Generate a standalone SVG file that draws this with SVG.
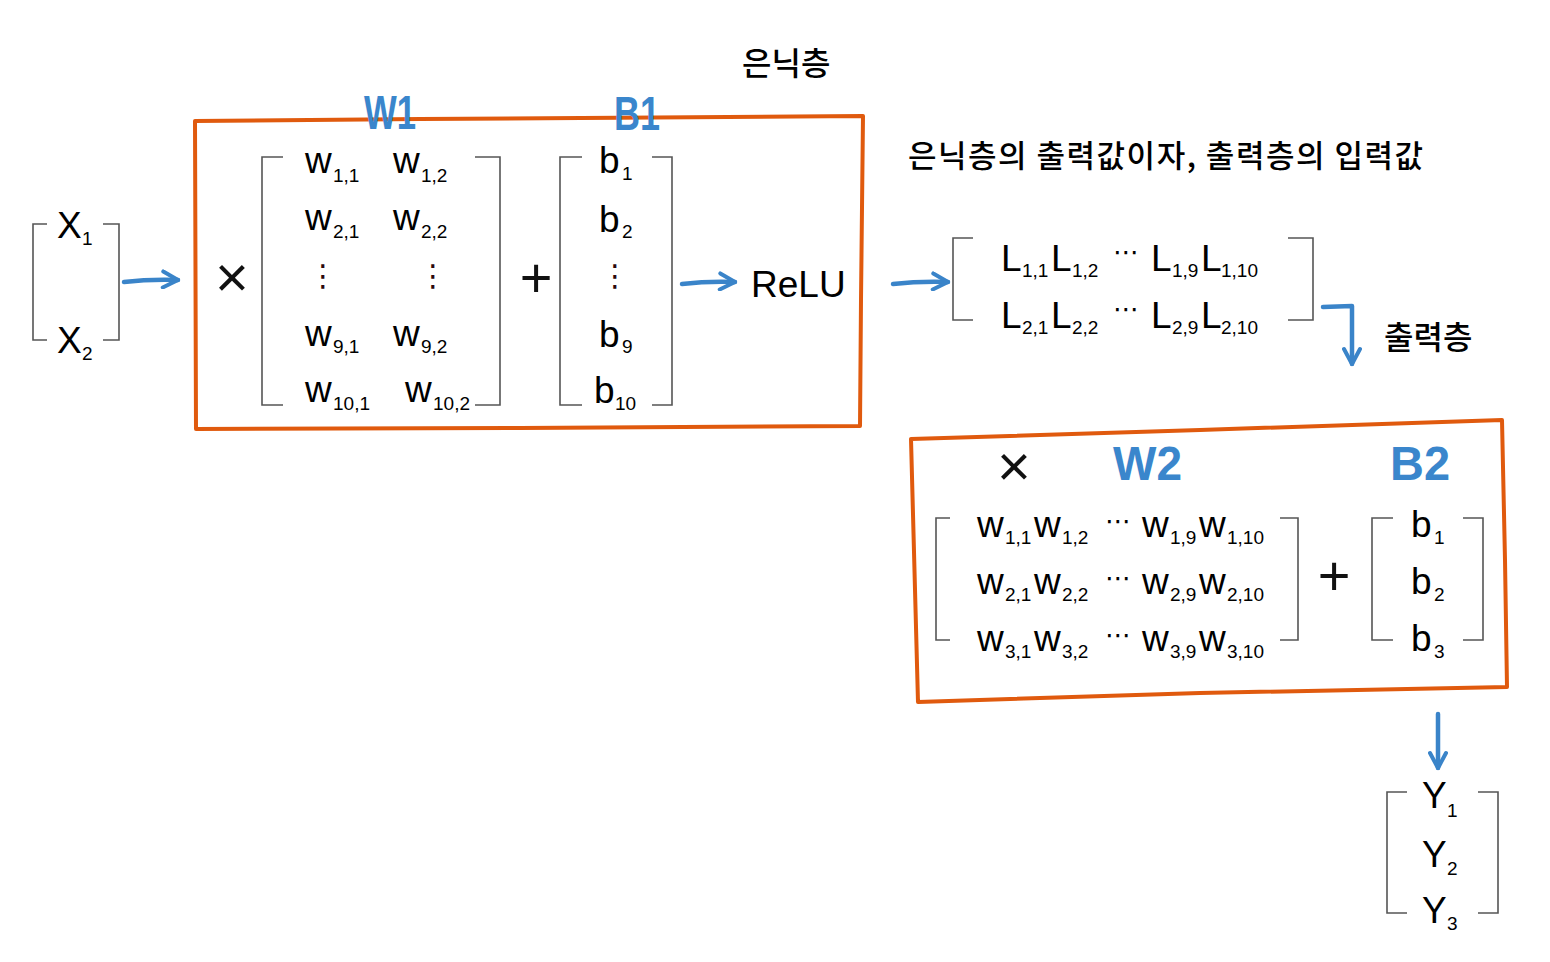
<svg xmlns="http://www.w3.org/2000/svg" width="1550" height="962" viewBox="0 0 1550 962">
<style>
.t{font-family:"Liberation Sans",Arial,sans-serif;font-size:37px;fill:#000}
.s{font-size:19px}
.k{font-family:"Noto Sans CJK KR","Noto Sans",sans-serif;fill:#000}
.br{fill:none;stroke:#555;stroke-width:1.6}
.box{fill:none;stroke:#e05a0e;stroke-width:4;stroke-linejoin:round}
.lbl{font-family:"Liberation Sans",Arial,sans-serif;font-weight:bold;font-size:48px;fill:#3a86cc}
.op{font-family:"Liberation Sans",Arial,sans-serif;fill:#111;text-anchor:middle}
.vd{font-family:"DejaVu Sans",sans-serif;font-size:30px;fill:#2a0a0a;text-anchor:middle}
.hd{font-family:"DejaVu Sans",sans-serif;font-size:26px;fill:#000}
.ar{fill:none;stroke:#3a84c9;stroke-width:4.5;stroke-linecap:round;stroke-linejoin:round}
</style>
<defs>
<marker id="ah" viewBox="0 0 20 20" refX="18" refY="10" markerWidth="20" markerHeight="20" markerUnits="userSpaceOnUse" orient="auto">
<path d="M3,2 L18,10 L3,18" fill="none" stroke="#3a84c9" stroke-width="4" stroke-linecap="round" stroke-linejoin="round"/>
</marker>
</defs>

<g id="input-x">
<path class="br" d="M47,224 H33 V340 H47 M103,224 H119 V340 H103"/>
<text class="t" x="57" y="238">X<tspan class="s" x="82" y="245">1</tspan></text>
<text class="t" x="57" y="353">X<tspan class="s" x="82" y="360">2</tspan></text>
</g>

<g id="hidden-layer">
<text class="k" x="742" y="75" font-size="32" font-weight="500">은닉층</text>
<path class="box" d="M195,121 L420,119 L863,116 L861,300 L860,426 L520,428 L196,429 Z"/>
<text class="lbl" x="364" y="129" textLength="52" lengthAdjust="spacingAndGlyphs">W1</text>
<text class="lbl" x="614" y="130" textLength="46" lengthAdjust="spacingAndGlyphs">B1</text>
<text class="op" x="232" y="297" font-size="58">×</text>
<g id="w1-matrix">
<path class="br" d="M283,157 H262 V405 H283 M475,157 H500 V405 H475"/>
<text class="t" x="305" y="173">w<tspan class="s" x="333" y="182">1,1</tspan></text>
<text class="t" x="393" y="173">w<tspan class="s" x="421" y="182">1,2</tspan></text>
<text class="t" x="305" y="230">w<tspan class="s" x="333" y="238">2,1</tspan></text>
<text class="t" x="393" y="230">w<tspan class="s" x="421" y="238">2,2</tspan></text>
<text class="vd" x="323" y="286">⋮</text>
<text class="vd" x="433" y="286">⋮</text>
<text class="t" x="305" y="346">w<tspan class="s" x="333" y="353">9,1</tspan></text>
<text class="t" x="393" y="346">w<tspan class="s" x="421" y="353">9,2</tspan></text>
<text class="t" x="305" y="402">w<tspan class="s" x="333" y="410">10,1</tspan></text>
<text class="t" x="405" y="402">w<tspan class="s" x="433" y="410">10,2</tspan></text>
</g>
<text class="op" x="536" y="297" font-size="56">+</text>
<g id="b1-matrix">
<path class="br" d="M582,157 H560 V405 H582 M652,157 H672 V405 H652"/>
<text class="t" x="599" y="173">b<tspan class="s" x="622" y="180">1</tspan></text>
<text class="t" x="599" y="232">b<tspan class="s" x="622" y="238">2</tspan></text>
<text class="vd" x="615" y="286">⋮</text>
<text class="t" x="599" y="347">b<tspan class="s" x="622" y="353">9</tspan></text>
<text class="t" x="594" y="403">b<tspan class="s" x="615" y="410">10</tspan></text>
</g>
<text class="t" x="751" y="297">ReLU</text>
</g>

<g id="hidden-output">
<text class="k" x="908" y="167" font-size="31" font-weight="500" textLength="515" lengthAdjust="spacing">은닉층의 출력값이자, 출력층의 입력값</text>
<path class="br" d="M973,238 H953 V320 H973 M1288,238 H1313 V320 H1288"/>
<text class="t" x="1001" y="271">L<tspan class="s" x="1022" y="277">1,1</tspan><tspan x="1051" y="271">L</tspan><tspan class="s" x="1072" y="277">1,2</tspan><tspan x="1151" y="271">L</tspan><tspan class="s" x="1172" y="277">1,9</tspan><tspan x="1201" y="271">L</tspan><tspan class="s" x="1221" y="277">1,10</tspan></text>
<text class="hd" x="1113" y="261">⋯</text>
<text class="t" x="1001" y="328">L<tspan class="s" x="1022" y="334">2,1</tspan><tspan x="1051" y="328">L</tspan><tspan class="s" x="1072" y="334">2,2</tspan><tspan x="1151" y="328">L</tspan><tspan class="s" x="1172" y="334">2,9</tspan><tspan x="1201" y="328">L</tspan><tspan class="s" x="1221" y="334">2,10</tspan></text>
<text class="hd" x="1113" y="318">⋯</text>
</g>

<g id="output-layer">
<text class="k" x="1384" y="349" font-size="32" font-weight="500">출력층</text>
<path class="box" d="M911,439 L1200,430 L1502,420 L1505,560 L1507,687 L1200,693 L918,702 Z"/>
<text class="op" x="1014" y="486" font-size="58">×</text>
<text class="lbl" x="1113" y="480" textLength="69" lengthAdjust="spacingAndGlyphs">W2</text>
<text class="lbl" x="1390" y="480" textLength="60" lengthAdjust="spacingAndGlyphs">B2</text>
<g id="w2-matrix">
<path class="br" d="M950,518 H936 V640 H950 M1280,518 H1298 V640 H1280"/>
<text class="t" x="977" y="537">w<tspan class="s" x="1005" y="544">1,1</tspan><tspan x="1034" y="537">w</tspan><tspan class="s" x="1062" y="544">1,2</tspan><tspan x="1142" y="537">w</tspan><tspan class="s" x="1170" y="544">1,9</tspan><tspan x="1199" y="537">w</tspan><tspan class="s" x="1227" y="544">1,10</tspan></text>
<text class="hd" x="1105" y="530">⋯</text>
<text class="t" x="977" y="594">w<tspan class="s" x="1005" y="601">2,1</tspan><tspan x="1034" y="594">w</tspan><tspan class="s" x="1062" y="601">2,2</tspan><tspan x="1142" y="594">w</tspan><tspan class="s" x="1170" y="601">2,9</tspan><tspan x="1199" y="594">w</tspan><tspan class="s" x="1227" y="601">2,10</tspan></text>
<text class="hd" x="1105" y="587">⋯</text>
<text class="t" x="977" y="651">w<tspan class="s" x="1005" y="658">3,1</tspan><tspan x="1034" y="651">w</tspan><tspan class="s" x="1062" y="658">3,2</tspan><tspan x="1142" y="651">w</tspan><tspan class="s" x="1170" y="658">3,9</tspan><tspan x="1199" y="651">w</tspan><tspan class="s" x="1227" y="658">3,10</tspan></text>
<text class="hd" x="1105" y="644">⋯</text>
</g>
<text class="op" x="1334" y="595" font-size="56">+</text>
<g id="b2-matrix">
<path class="br" d="M1393,518 H1372 V640 H1393 M1463,518 H1483 V640 H1463"/>
<text class="t" x="1411" y="537">b<tspan class="s" x="1434" y="544">1</tspan></text>
<text class="t" x="1411" y="594">b<tspan class="s" x="1434" y="601">2</tspan></text>
<text class="t" x="1411" y="651">b<tspan class="s" x="1434" y="658">3</tspan></text>
</g>
</g>

<g id="output-y">
<path class="br" d="M1407,792 H1387 V913 H1407 M1478,792 H1498 V913 H1478"/>
<text class="t" x="1422" y="808">Y<tspan class="s" x="1447" y="817">1</tspan></text>
<text class="t" x="1422" y="867">Y<tspan class="s" x="1447" y="875">2</tspan></text>
<text class="t" x="1422" y="923">Y<tspan class="s" x="1447" y="930">3</tspan></text>
</g>

<g id="connectors">
<path class="ar" d="M124,282 Q150,279 178,280" marker-end="url(#ah)"/>
<path class="ar" d="M682,284 Q708,281 735,282" marker-end="url(#ah)"/>
<path class="ar" d="M893,284 Q920,281 948,282" marker-end="url(#ah)"/>
<path class="ar" d="M1323,307 L1352,306 L1352,364" marker-end="url(#ah)"/>
<path class="ar" d="M1438,714 L1438,768" marker-end="url(#ah)"/>
</g>
</svg>
